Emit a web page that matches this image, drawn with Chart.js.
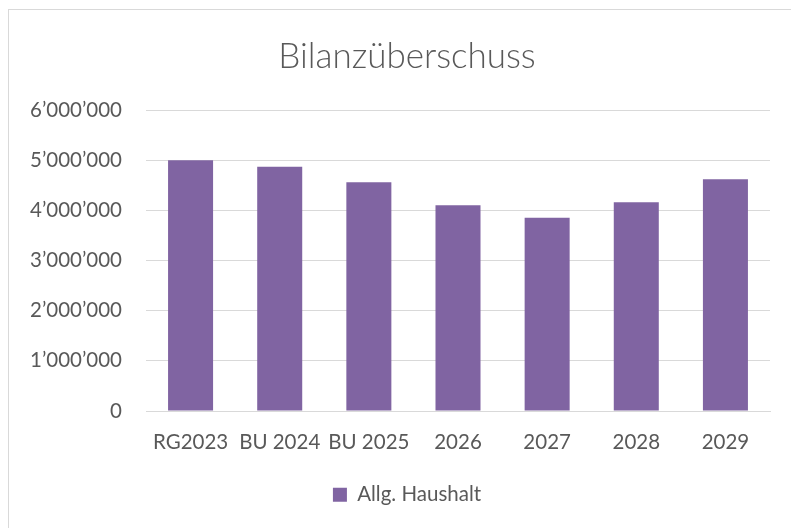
<!DOCTYPE html>
<html>
<head>
<meta charset="utf-8">
<script src="https://cdn.jsdelivr.net/npm/chart.js@4.4.1/dist/chart.umd.min.js"></script>
<style>
  html, body { margin: 0; padding: 0; background: #fff; overflow: hidden; width: 791px; height: 528px; }
  #frame { position: absolute; left: 8px; top: 9px; width: 796px; height: 530px; border-left: 1px solid #d9d9d9; border-top: 1px solid #d9d9d9; background: #fff; }
  #frame canvas { display: block; }
</style>
</head>
<body>
<div id="frame"><canvas id="chart" width="796" height="519"></canvas></div>
<script>
// Bilanzüberschuss — values
const categories = ['RG2023', 'BU 2024', 'BU 2025', '2026', '2027', '2028', '2029'];
const haushalt = [5000000, 4870000, 4560000, 4100000, 3850000, 4160000, 4620000];
const yTicks = [0, 1000000, 2000000, 3000000, 4000000, 5000000, 6000000];

const textColor = '#595959';
const gridColor = '#d9d9d9';
const fontFamily = 'Lato, "Open Sans", sans-serif';

function swissNum(v) {
  return String(v).replace(/\B(?=(\d{3})+(?!\d))/g, '\u2019');
}

const ctx = document.getElementById('chart').getContext('2d');
new Chart(ctx, {
  type: 'bar',
  data: {
    labels: categories,
    datasets: [{
      label: 'Allg. Haushalt',
      data: haushalt,
      backgroundColor: '#8064A2',
      borderWidth: 0,
      barPercentage: 0.505,
      categoryPercentage: 1.0,
    }],
  },
  options: {
    responsive: false,
    animation: false,
    layout: { padding: { left: 5, right: 5, top: 0, bottom: 14 } },
    plugins: {
      title: {
        display: true,
        text: 'Bilanzüberschuss',
        color: textColor,
        font: { family: fontFamily, size: 35, weight: '300' },
        padding: { top: 26, bottom: 32 },
      },
      legend: {
        position: 'bottom',
        labels: {
          color: textColor,
          font: { family: fontFamily, size: 20.5 },
          boxWidth: 14,
          boxHeight: 14,
          padding: 20,
        },
      },
      tooltip: { enabled: false },
    },
    scales: {
      x: {
        grid: { display: false, drawTicks: false },
        border: { color: gridColor, width: 1 },
        ticks: { color: textColor, font: { family: fontFamily, size: 20.5 }, padding: 19, maxRotation: 0, autoSkip: false },
        afterFit: (scale) => { scale.height = 53.5; },
      },
      y: {
        min: 0,
        max: 6000000,
        afterBuildTicks: (scale) => { scale.ticks = yTicks.map(v => ({ value: v })); },
        grid: { color: gridColor, lineWidth: 1, drawTicks: false },
        border: { display: false },
        ticks: { color: textColor, font: { family: fontFamily, size: 20.5 }, padding: 24, callback: (v) => swissNum(v) },
        afterFit: (scale) => { scale.width = 132; },
      },
      // empty right axis: only keeps the white margin right of the plot
      yRight: {
        type: 'linear',
        position: 'right',
        grid: { display: false, drawTicks: false },
        border: { display: false },
        ticks: { display: false },
        afterFit: (scale) => { scale.width = 30; },
      },
    },
  },
});
</script>
</body>
</html>
